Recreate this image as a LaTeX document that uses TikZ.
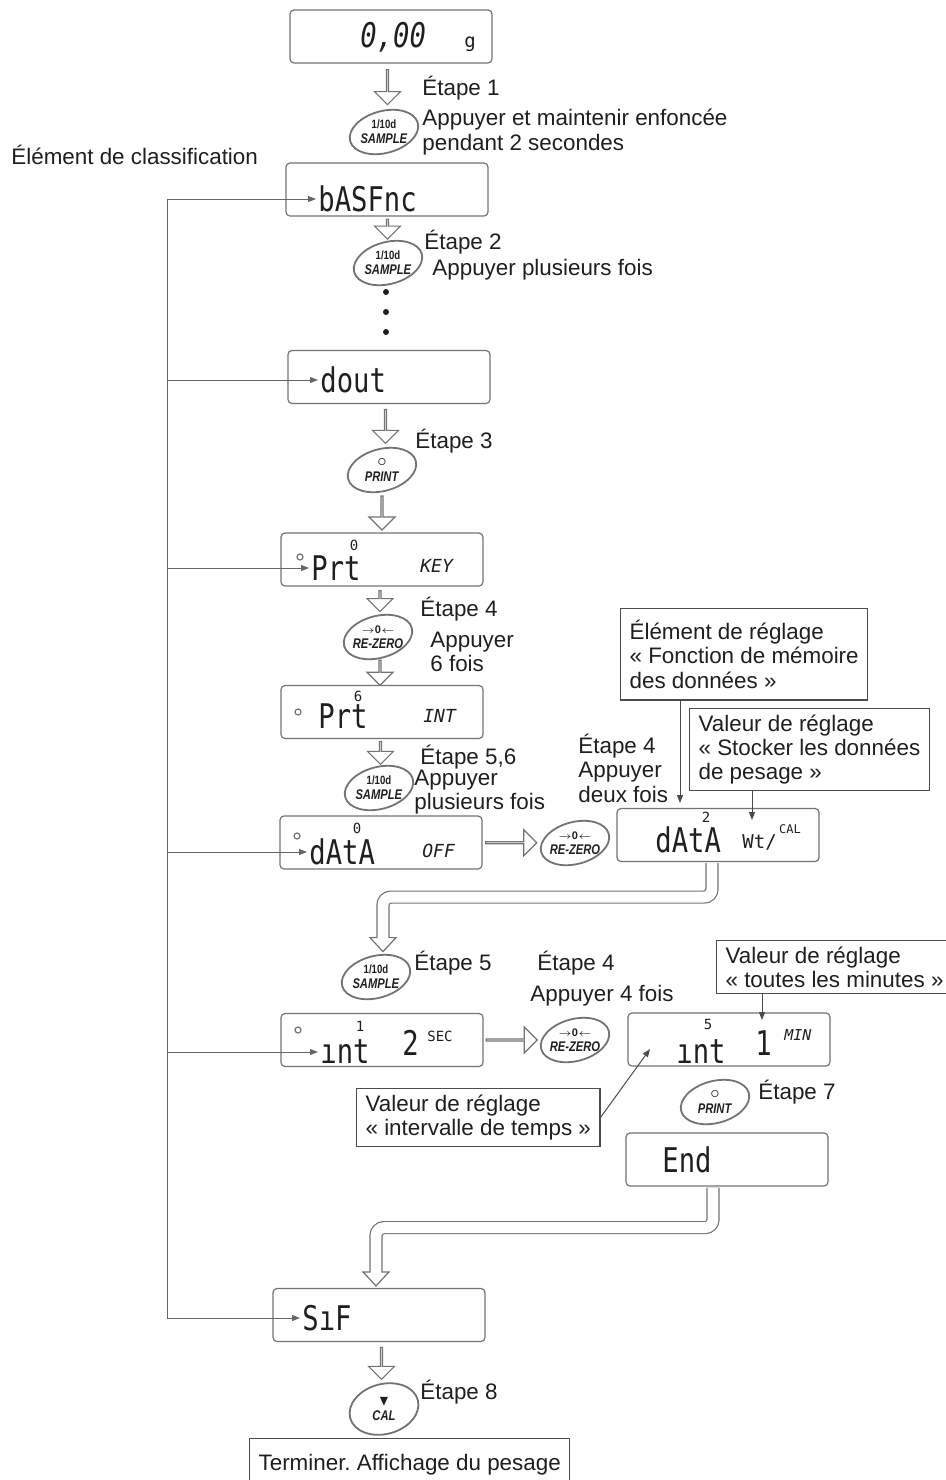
\documentclass[tikz,border=0pt]{standalone}
\usepackage{fontspec}
\setmainfont{Liberation Sans}
\newfontfamily\lcdfont{DejaVu Sans Mono}
\usepackage{amssymb}
\usetikzlibrary{arrows.meta,calc,positioning,shapes.geometric,shapes.arrows}
\definecolor{frame}{gray}{0.45}
\definecolor{ink}{gray}{0.12}
\newcommand\lcd[1]{\scalebox{.8}[1]{#1}}
\newcommand\keycap[1]{\scalebox{.8}[1]{#1}}
\frenchspacing

\begin{document}
\begin{tikzpicture}[x=.5pt,y=-.5pt,
  every node/.style={inner sep=0pt,text=ink,font=\fontsize{11.2}{12.2}\selectfont},
  disp/.style={draw=frame,line width=.6pt,rounded corners=2pt,minimum width=101pt,minimum height=26.5pt},
  seg/.style={anchor=west,font=\lcdfont\fontsize{17}{17}\selectfont},
  segit/.style={anchor=west,font=\lcdfont\itshape\fontsize{17}{17}\selectfont},
  sup/.style={font=\lcdfont\fontsize{7}{7}\selectfont},
  tiny/.style={font=\lcdfont\fontsize{6}{6}\selectfont},
  small/.style={anchor=west,font=\lcdfont\fontsize{9.5}{9.5}\selectfont},
  unit/.style={anchor=west,font=\lcdfont\itshape\fontsize{9}{9}\selectfont},
  btn/.style={ellipse,minimum width=33pt,minimum height=22pt,align=center,font=\fontsize{7}{7.6}\selectfont\bfseries},
  ring/.style={draw=black!55,line width=.9pt},
  lbl/.style={anchor=west,align=left},
  note/.style={draw=black!70,line width=.6pt,anchor=north west,align=left,inner xsep=4.5pt,inner ysep=3pt},
  harrow/.style={single arrow,draw=frame,fill=white,line width=.6pt,minimum width=13pt,single arrow head extend=3.5pt,single arrow tip angle=90},
  bandout/.style={draw=frame,line width=6.6pt,rounded corners=4pt},
  bandin/.style={draw=white,line width=5.4pt,rounded corners=4pt},
  tipfill/.style={draw=frame,fill=white,line width=.6pt},
  pointer/.style={draw=black!70,line width=.5pt,-{Triangle[length=4pt,width=3pt]}},
  bus/.style={draw=black!60,line width=.5pt},
  dot/.style={draw=frame,line width=.6pt}]
\useasboundingbox (0,0) rectangle (946,1480);

% displays
\node[disp] (d0) at (391,36.5) {};
\node[segit] (d0T) at (360,37) {\lcd{0,00}};
\node[small] (d0U) at (464,44) {g};

\node[disp] (bas) at (387,189.5) {};
\node[seg] (basT) at (318,199) {\lcd{bASFnc}};

\node[disp] (dout) at (389,377) {};
\node[seg] (doutT) at (320,380) {\lcd{dout}};

\node[disp] (prt1) at (382,559.5) {};
\node[seg] (prt1T) at (311,568) {\lcd{Prt}};
\node[sup] at (354,545) {0};
\node[unit] at (420,566) {KEY};
\draw[dot] (300,557) circle[radius=1.5pt];

\node[disp] (prt2) at (382,712) {};
\node[seg] (prt2T) at (318,716) {\lcd{Prt}};
\node[sup] at (358,696) {6};
\node[unit] at (423,716) {INT};
\draw[dot] (298,712) circle[radius=1.5pt];

\node[disp] (data1) at (381,842.5) {};
\node[seg] (data1T) at (309,852) {\lcd{dAtA}};
\node[sup] at (357,828) {0};
\node[unit] at (422,851) {OFF};
\draw[dot] (297,836) circle[radius=1.5pt];

\node[disp] (data2) at (718,835) {};
\node[seg] (data2T) at (655,840) {\lcd{dAtA}};
\node[sup] at (706,817) {2};
\node[small] at (742,842) {Wt/};
\node[tiny] at (790,829) {CAL};

\node[disp] (int1) at (382,1040) {};
\node[seg] (int1T) at (320,1052) {\lcd{ınt}};
\node[sup] at (360,1026) {1};
\node[seg] at (402,1043) {\lcd{2}};
\node[tiny,font=\lcdfont\fontsize{7}{7}\selectfont] at (440,1036) {SEC};
\draw[dot] (298,1030) circle[radius=1.5pt];

\node[disp] (int2) at (729,1039.5) {};
\node[seg] (int2T) at (676,1052) {\lcd{ınt}};
\node[sup] at (708,1024) {5};
\node[seg] at (755,1043) {\lcd{1}};
\node[unit,font=\lcdfont\itshape\fontsize{7.5}{7.5}\selectfont] at (784,1035) {MIN};

\node[disp] (end) at (727,1159.5) {};
\node[seg] (endT) at (662,1160) {\lcd{End}};

\node[disp,minimum width=106pt] (sif) at (379,1315) {};
\node[seg] (sifT) at (302,1318) {\lcd{SıF}};

% keys
\node[btn] (btn1) at (384,132) {{\fontsize{6}{6}\selectfont\keycap{1/10d}}\\\keycap{\textit{SAMPLE}}};
\node[btn] (btn2) at (388,263) {{\fontsize{6}{6}\selectfont\keycap{1/10d}}\\\keycap{\textit{SAMPLE}}};
\node[btn] (btn3) at (382,470) {{\normalfont\fontsize{9}{7}\selectfont$\circ$}\\\keycap{\textit{PRINT}}};
\node[btn] (btn4) at (378,637) {{\fontsize{5.5}{6}\selectfont$\rightarrow$0$\leftarrow$}\\\keycap{\textit{RE-ZERO}}};
\node[btn] (btn5) at (379,788) {{\fontsize{6}{6}\selectfont\keycap{1/10d}}\\\keycap{\textit{SAMPLE}}};
\node[btn] (btn6) at (575,843) {{\fontsize{5.5}{6}\selectfont$\rightarrow$0$\leftarrow$}\\\keycap{\textit{RE-ZERO}}};
\node[btn] (btn7) at (376,977) {{\fontsize{6}{6}\selectfont\keycap{1/10d}}\\\keycap{\textit{SAMPLE}}};
\node[btn] (btn8) at (575,1040) {{\fontsize{5.5}{6}\selectfont$\rightarrow$0$\leftarrow$}\\\keycap{\textit{RE-ZERO}}};
\node[btn] (btn9) at (715,1102) {{\normalfont\fontsize{9}{7}\selectfont$\circ$}\\\keycap{\textit{PRINT}}};
\node[btn,minimum height=25pt] (btn10) at (384,1409) {$\blacktriangledown$\\\keycap{\textit{CAL}}};
\foreach \b in {btn1,btn2,btn3,btn4,btn5,btn6,btn7,btn8,btn9}
  \draw[ring,rotate around={15:(\b.center)}] (\b.center) ellipse[x radius=35,y radius=21];
\draw[ring,rotate around={15:(btn10.center)}] (btn10.center) ellipse[x radius=35,y radius=25];

% step texts
\node[lbl] (s1) at (422,88) {Étape 1};
\node[lbl] (s1b) at (422,132) {Appuyer et maintenir enfoncée\\pendant 2 secondes};
\node[lbl] (cls) at (11,155) {Élément de classification};
\node[lbl] (s2) at (424,242) {Étape 2};
\node[lbl] (s2b) at (432,270) {Appuyer plusieurs fois};
\node[lbl] (s3) at (415,441) {Étape 3};
\node[lbl] (s4) at (420,609) {Étape 4};
\node[lbl] (s4b) at (430,652) {Appuyer\\6 fois};
\node[lbl] (s5) at (420,757) {Étape 5,6};
\node[lbl] (s5b) at (414,792) {Appuyer\\plusieurs fois};
\node[lbl] (s6) at (578,768) {Étape 4\\Appuyer\\deux fois};
\node[lbl] (s7) at (414,963) {Étape 5};
\node[lbl] (s8) at (537,963) {Étape 4};
\node[lbl] (s8b) at (530,996) {Appuyer 4 fois};
\node[lbl] (s9) at (758,1092) {Étape 7};
\node[lbl] (s10) at (420,1392) {Étape 8};

% call-outs
\node[note,inner ysep=5.75pt] (r1) at (620,608) {Élément de réglage\\« Fonction de mémoire\\des données »};
\node[note] (r2) at (689,708) {Valeur de réglage\\« Stocker les données\\de pesage »};
\node[note] (r3) at (716,940) {Valeur de réglage\\« toutes les minutes »};
\node[note] (r4) at (356,1088) {Valeur de réglage\\« intervalle de temps »};
\node[note,inner ysep=8pt] (r5) at (249,1438) {Terminer. Affichage du pesage};

\coordinate (p1) at (680,803);
\coordinate (p2) at (752,820);
\coordinate (p3) at (762,1020);
\coordinate (p4) at (650,1049);
\draw[pointer] (r1.south -| p1) -- (p1);
\draw[pointer] (r2.south -| p2) -- (p2);
\draw[pointer] (r3.south -| p3) -- (p3);
\draw[pointer] (r4.east) -- (p4);

% classification bus
\coordinate (bus) at (167,0);
\draw[bus] (bus |- basT.west) -- (bus |- sifT.west);
\foreach \t in {basT,doutT,prt1T,data1T,int1T,sifT}
  \draw[bus,-{Triangle[length=4pt,width=3pt]},shorten >=1pt] (bus |- \t.west) -- (\t.west);

% dots
\foreach \y in {292,312,332}
  \fill[ink] (386,\y) circle[radius=1.5pt];

% straight hollow arrows
\node[harrow,rotate=-90,minimum height=17.5pt] (a1) at ($(d0.south)!.5!(btn1.north)$) {};
\node[harrow,rotate=-90,minimum height=10pt] (a2) at ($(bas.south)!.5!(btn2.north)$) {};
\node[harrow,rotate=-90,minimum height=17pt] (a3) at ($(dout.south)!.5!(btn3.north)$) {};
\node[harrow,rotate=-90,minimum height=17pt] (a4) at ($(btn3.south)!.5!(prt1.north)$) {};
\node[harrow,rotate=-90,minimum height=10.5pt] (a5) at ($(prt1.south)!.5!(btn4.north)$) {};
\node[harrow,rotate=-90,minimum height=12.5pt] (a6) at ($(btn4.south)!.5!(prt2.north)$) {};
\node[harrow,rotate=-90,minimum height=11.5pt] (a7) at ($(prt2.south)!.5!(btn5.north)$) {};
\node[harrow,minimum height=25.5pt] (a8) at ($(data1.east)!.5!(btn6.west)$) {};
\node[harrow,minimum height=25.5pt] (a9) at ($(int1.east)!.5!(btn8.west)$) {};
\node[harrow,rotate=-90,minimum height=16pt] (a10) at ($(sif.south)!.5!(btn10.north)$) {};

% bent hollow arrows
\coordinate (k1) at ($(data2.south)+(-6,1)$);
\coordinate (k2) at ($(btn7.north)+(7,-17)$);
\draw[bandout] (k1) -- ++(0,34) -| (k2);
\draw[tipfill] ($(k2)+(-13,0)$) -- ($(k2)+(13,0)$) -- ($(k2)+(0,14)$) -- cycle;
\draw[bandin] (k1) -- ++(0,34) -| ($(k2)+(0,1.5)$);

\coordinate (k3) at ($(end.south)+(-14,1)$);
\coordinate (k4) at ($(sif.north)+(-3,-16)$);
\draw[bandout] (k3) -- ++(0,40) -| (k4);
\draw[tipfill] ($(k4)+(-13,0)$) -- ($(k4)+(13,0)$) -- ($(k4)+(0,14)$) -- cycle;
\draw[bandin] (k3) -- ++(0,40) -| ($(k4)+(0,1.5)$);
\end{tikzpicture}
\end{document}
